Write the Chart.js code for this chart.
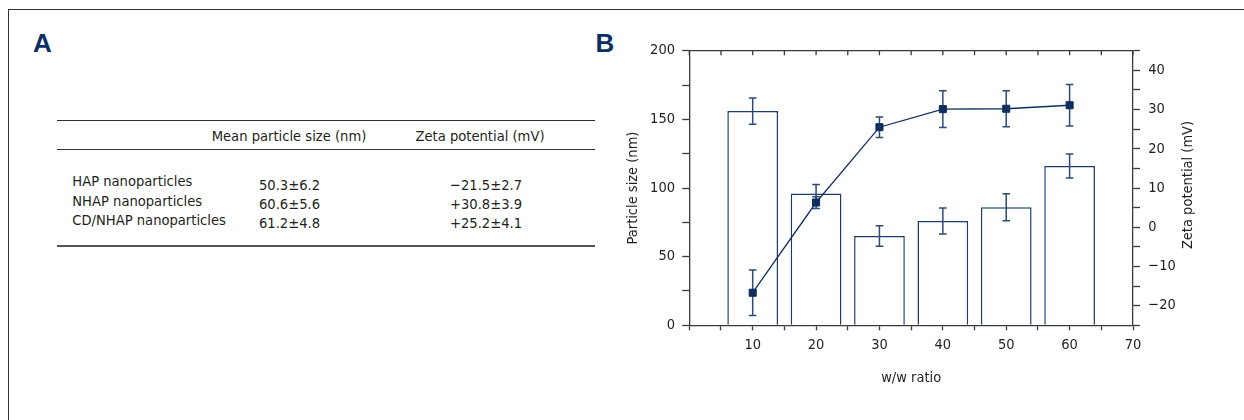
<!DOCTYPE html>
<html>
<head>
<meta charset="utf-8">
<script src="https://cdn.jsdelivr.net/npm/chart.js@4.4.1/dist/chart.umd.min.js"></script>
<style>
  html, body { margin: 0; padding: 0; background: #fff; }
  body { width: 1244px; height: 420px; position: relative; overflow: hidden;
         font-family: "DejaVu Sans Condensed", "DejaVu Sans", sans-serif; color: #231f20; }
  .frame { position: absolute; left: 7.5px; top: 8.5px; width: 1300px; height: 500px;
           border-left: 1.5px solid #333; border-top: 1.5px solid #333; }
  .panel { position: absolute; font-family: "Liberation Sans", Arial, sans-serif; font-weight: bold;
           font-size: 26px; line-height: 1; color: #0b2f63; }
  .t { position: absolute; font-size: 14.6px; line-height: 1; white-space: nowrap; }
  .c { transform: translateX(-50%); }
  .hl { position: absolute; left: 57px; width: 538px; }
  #wrap { position: absolute; left: 620px; top: 0; width: 624px; height: 420px; }
</style>
</head>
<body>
<div class="frame"></div>
<div class="panel" style="left:33px; top:30px;">A</div>
<div class="panel" style="left:595.5px; top:30px;">B</div>

<div class="hl" style="top:120px; height:1.3px; background:#333;"></div>
<div class="hl" style="top:148.5px; height:1.3px; background:#333;"></div>
<div class="hl" style="top:244.7px; height:2.2px; background:#555;"></div>
<div id="tableA"></div>

<div id="wrap"><canvas id="c" width="624" height="420"></canvas></div>

<script>
// ---------- Panel A table data ----------
const tableHeaders = ["Mean particle size (nm)", "Zeta potential (mV)"];
const tableRows = ["HAP nanoparticles", "NHAP nanoparticles", "CD/NHAP nanoparticles"];
const tableSize = ["50.3\u00b16.2", "60.6\u00b15.6", "61.2\u00b14.8"];
const tableZeta = ["\u221221.5\u00b12.7", "+30.8\u00b13.9", "+25.2\u00b14.1"];

// ---------- Panel B chart data ----------
const wwRatio = [10, 20, 30, 40, 50, 60];
const particleSize = [156, 96, 65, 76, 86, 116];
const particleSizeErr = [9.5, 6.5, 7.5, 9.5, 9.8, 8.7];
const zetaPotential = [-16.7, 6.3, 25.5, 30.1, 30.2, 31.1];
const zetaPotentialErr = [5.8, 1.5, 2.6, 4.7, 4.6, 5.3];

// build table
(function () {
  const host = document.getElementById('tableA');
  const add = (txt, cls, left, top) => {
    const d = document.createElement('div');
    d.className = 't' + (cls ? ' ' + cls : '');
    d.style.left = left + 'px'; d.style.top = top + 'px';
    d.textContent = txt; host.appendChild(d);
  };
  add(tableHeaders[0], 'c', 289, 129.3);
  add(tableHeaders[1], 'c', 480, 129.3);
  const nameTops = [173.6, 193.6, 213.1];
  const valTops = [177.6, 197.1, 216.1];
  tableRows.forEach((r, i) => {
    add(r, '', 72.3, nameTops[i]);
    add(tableSize[i], 'c', 289.5, valTops[i]);
    add(tableZeta[i], 'c', 486, valTops[i]);
  });
})();

const FONT = '"DejaVu Sans Condensed", "DejaVu Sans", sans-serif';
const FSIZE = 14.5;
Chart.defaults.font.family = FONT;
Chart.defaults.font.size = FSIZE;
Chart.defaults.color = '#231f20';

const AXIS = '#3a3a3a';
const NAVY = '#0f2f5e';
const ERR = '#2d4b78';

function drawErr(chart, dsIndex, errs, axisId) {
  const ctx = chart.ctx, ys = chart.scales[axisId], xs = chart.scales.x;
  const pts = chart.data.datasets[dsIndex].data;
  ctx.save();
  ctx.strokeStyle = ERR; ctx.lineWidth = 1.5;
  pts.forEach((p, i) => {
    const x = xs.getPixelForValue(p.x);
    const yt = ys.getPixelForValue(p.y + errs[i]);
    const yb = ys.getPixelForValue(p.y - errs[i]);
    ctx.beginPath();
    ctx.moveTo(x, yt); ctx.lineTo(x, yb);
    ctx.moveTo(x - 3.8, yt); ctx.lineTo(x + 3.8, yt);
    ctx.moveTo(x - 3.8, yb); ctx.lineTo(x + 3.8, yb);
    ctx.stroke();
  });
  ctx.restore();
}

const extras = {
  id: 'extras',
  afterDatasetDraw(chart, args) {
    if (args.index === 0) drawErr(chart, 0, particleSizeErr, 'y');
  },
  beforeDatasetDraw(chart, args) {
    if (args.index === 1) drawErr(chart, 1, zetaPotentialErr, 'y2');
  },
  afterDraw(chart) {
    const ctx = chart.ctx, a = chart.chartArea, xs = chart.scales.x;
    ctx.save();
    // top frame with inward ticks
    ctx.strokeStyle = AXIS; ctx.lineWidth = 1.3;
    ctx.beginPath();
    ctx.moveTo(a.left, a.top); ctx.lineTo(a.right, a.top);
    xs.ticks.forEach(t => {
      const x = xs.getPixelForValue(t.value);
      ctx.moveTo(x, a.top); ctx.lineTo(x, a.top + 4.5);
    });
    ctx.stroke();
    // right axis title (reads bottom to top)
    ctx.fillStyle = '#231f20';
    ctx.font = FSIZE + 'px ' + FONT;
    ctx.textAlign = 'center'; ctx.textBaseline = 'alphabetic';
    ctx.translate(571.5, (a.top + a.bottom) / 2 - 3);
    ctx.rotate(-Math.PI / 2);
    ctx.fillText('Zeta potential (mV)', 0, 0);
    ctx.restore();
  }
};

const tickGrid = (len) => ({
  drawOnChartArea: false, drawTicks: true, tickLength: len,
  tickColor: AXIS, tickWidth: 1.3
});
const border = { display: true, color: AXIS, width: 1.3 };

new Chart(document.getElementById('c'), {
  type: 'bar',
  data: {
    datasets: [
      {
        type: 'bar', label: 'Particle size',
        data: wwRatio.map((x, i) => ({ x: x, y: particleSize[i] })),
        backgroundColor: '#ffffff', borderColor: '#1d3c6b', borderWidth: 1.5,
        barPercentage: 1, categoryPercentage: 1.6, yAxisID: 'y', order: 2
      },
      {
        type: 'line', label: 'Zeta potential',
        data: wwRatio.map((x, i) => ({ x: x, y: zetaPotential[i] })),
        borderColor: NAVY, borderWidth: 1.3, pointStyle: 'rect',
        pointRadius: 5, pointBorderWidth: 1, pointBackgroundColor: NAVY,
        pointBorderColor: NAVY, yAxisID: 'y2', order: 1, tension: 0
      }
    ]
  },
  options: {
    responsive: false, animation: false,
    layout: { padding: { top: 50.7, left: 0, right: 0, bottom: 0 } },
    plugins: { legend: { display: false }, tooltip: { enabled: false } },
    scales: {
      x: {
        type: 'linear', position: 'bottom', min: 0, max: 70,
        offset: false,
        grid: Object.assign(tickGrid(5), { offset: false }),
        border: border,
        ticks: { stepSize: 5, autoSkip: false, maxRotation: 0, padding: 5.8,
                 callback: v => (v > 0 && v % 10 === 0) ? String(v) : '' },
        title: { display: true, text: 'w/w ratio', padding: { top: 0, bottom: 33.3 } },
        afterFit: s => { s.height = 94.7; }
      },
      y: {
        type: 'linear', position: 'left', min: 0, max: 200,
        grid: tickGrid(7), border: border,
        ticks: { stepSize: 25, autoSkip: false, padding: 7.3,
                 callback: v => (v % 50 === 0) ? String(v) : '' },
        title: { display: true, text: 'Particle size (nm)', padding: { top: 4.3, bottom: 0 } },
        afterFit: s => { s.width = 69.3; }
      },
      y2: {
        type: 'linear', position: 'right', min: -25, max: 45,
        grid: tickGrid(7), border: border,
        ticks: { stepSize: 5, autoSkip: false, padding: 8.3,
                 callback: v => (v % 10 === 0) ? (v < 0 ? '\u2212' + Math.abs(v) : String(v)) : '' },
        afterFit: s => { s.width = 111; }
      }
    }
  },
  plugins: [extras]
});
</script>
</body>
</html>
